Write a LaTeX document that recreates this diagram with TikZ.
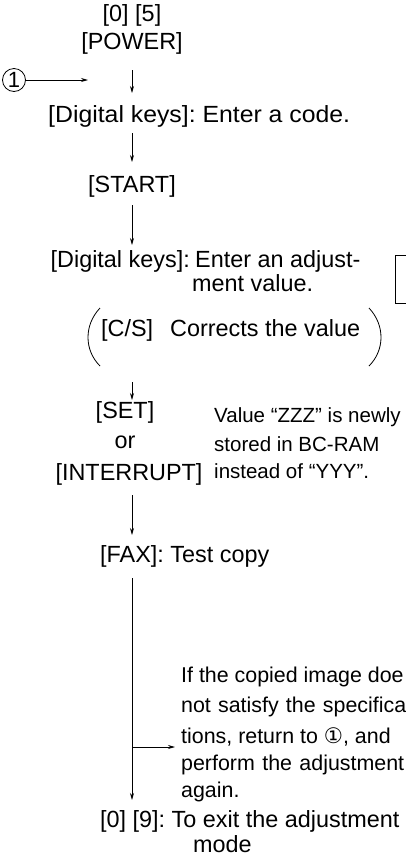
\documentclass[tikz,border=0pt]{standalone}
\usepackage{fontspec}
\setmainfont{Liberation Sans}
\newfontfamily\symfont{DejaVu Sans}
\usetikzlibrary{arrows.meta}
\tikzset{
  main/.style={inner sep=0pt, font=\fontsize{23.4}{28}\selectfont},
  side/.style={inner sep=0pt, font=\fontsize{20.5}{27}\selectfont},
  note/.style={inner sep=0pt, font=\fontsize{21.4}{29.5}\selectfont},
  flow/.style={-{Stealth[length=7pt,width=4pt]}, line width=0.8pt},
  plain/.style={line width=0.8pt}
}
\begin{document}
\frenchspacing
\begin{tikzpicture}[x=1pt,y=-1pt]
\useasboundingbox (0,0) rectangle (406,863);
% top
\node[main] (n05) at (132,15) {[0] [5]};
\node[main] (power) at (132,43) {[POWER]};
\node[draw, circle, line width=0.8pt, minimum size=23pt, inner sep=0pt, font=\fontsize{22}{22}\selectfont] (c1) at (14,80) {1};
\coordinate (c1e) at (88,80);
\draw[flow] (c1) -- (c1e);
\coordinate (a1s) at (132,70);
\node[main, anchor=west, xscale=1.06] (code) at (48,116) {[Digital keys]: Enter a code.};
\draw[flow] (a1s) -- (132,93) coordinate (a1e);
\node[main] (start) at (132,186) {[START]};
\draw[flow] (132,133) coordinate (a2s) -- (132,162) coordinate (a2e);
\draw[flow] (132,205) coordinate (a3s) -- (132,245) coordinate (a3e);
\node[main, anchor=base east] (dk) at (190,267) {[Digital keys]:};
\node[main, anchor=base west] (adj1) at (195,267) {Enter an adjust-};
\node[main, anchor=base west] (adj2) at (192,291) {ment value.};
% partial box at right edge
\coordinate (b1) at (420,255);
\coordinate (b2) at (395,255);
\coordinate (b3) at (395,303);
\coordinate (b4) at (420,303);
\draw[line width=0.8pt] (b1) -- (b2) -- (b3) -- (b4);
% corrects line
\node[main, anchor=base west] (cs) at (101,336) {[C/S]};
\node[main, anchor=base west] (corr) at (170,336) {Corrects the value};
\draw[plain] (100,308) .. controls (84,325) and (84,350) .. (100,366) coordinate (lp);
\draw[plain] (369,308) .. controls (385,325) and (385,350) .. (369,366) coordinate (rp);
% set
\draw[flow] (132,382) coordinate (a4s) -- (132,400) coordinate (a4e);
\node[main] (set) at (125,412) {[SET]};
\node[main] (or) at (125,442) {or};
\node[main] (intr) at (129,474) {[INTERRUPT]};
\node[side, anchor=west] (v1) at (214,417) {Value “ZZZ” is newly};
\node[side, anchor=west] (v2) at (214,444) {stored in BC-RAM};
\node[side, anchor=west] (v3) at (214,471) {instead of “YYY”.};
% fax
\draw[flow] (132,495) coordinate (a5s) -- (132,535) coordinate (a5e);
\node[main, anchor=west] (fax) at (100,556) {[FAX]: Test copy};
\coordinate (a6s) at (132,578);
\node[main, anchor=west] (exit) at (100,821) {[0] [9]: To exit the adjustment};
\node[main, anchor=west] (mode) at (193,844) {mode};
\draw[flow] (a6s) -- (132,800) coordinate (a6e);
\coordinate (br) at (132,747);
\coordinate (bre) at (175,747);
\draw[flow] (br) -- (bre);
\node[note, anchor=west] (t1) at (181,677) {If the copied image doe};
\node[note, anchor=west] (t2) at (181,707) {\makebox[225pt][s]{not satisfy the specifica}};
\node[note, anchor=west] (t3) at (181,737) {tions, return to {\symfont ①}, and};
\node[note, anchor=west] (t4) at (181,765) {\makebox[223pt][s]{perform the adjustment}};
\node[note, anchor=west] (t5) at (181,792) {again.};
\end{tikzpicture}
\end{document}
